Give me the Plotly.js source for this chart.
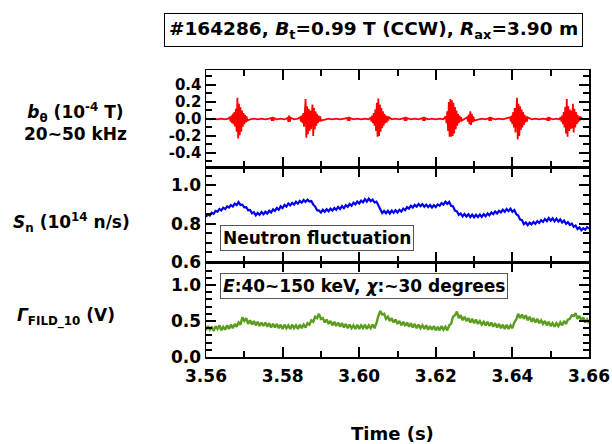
<!DOCTYPE html>
<html>
<head>
<meta charset="utf-8">
<script src="https://cdn.plot.ly/plotly-3.0.1.min.js"></script>
<style>html,body{margin:0;padding:0;background:#fff;}#chart{width:612px;height:444px;}</style>
</head>
<body>
<div id="chart"></div>
<script>
// ---- Data ----
// b_theta (1e-4 T), 20~50 kHz band: times (s) and values
const redT = [
  3.5600,3.5610,3.5620,3.5630,3.5640,3.5650,3.5658,
  3.5662,3.5664,3.5666,3.5668,3.5670,3.5672,3.5674,3.5676,3.5678,3.5680,3.5682,3.5684,3.5686,3.5688,3.5690,3.5692,3.5694,3.5696,3.5698,3.5700,3.5702,3.5704,3.5706,3.5708,
  3.5715,3.5725,3.5735,3.5745,3.5755,3.5765,
  3.5770,3.5772,3.5774,3.5776,3.5778,
  3.5785,3.5795,3.5805,3.5811,
  3.5813,3.5815,3.5817,3.5819,3.5821,
  3.5830,3.5840,
  3.5846,3.5848,3.5850,3.5852,3.5854,3.5856,3.5858,3.5860,3.5862,3.5864,3.5866,3.5868,3.5870,3.5872,3.5874,3.5876,3.5878,3.5880,3.5882,3.5884,3.5886,3.5888,3.5890,3.5892,3.5894,3.5896,3.5898,3.5900,
  3.5910,3.5920,3.5930,3.5940,3.5950,3.5960,
  3.5969,3.5971,3.5973,3.5975,3.5977,
  3.5985,3.5995,3.6005,3.6015,3.6025,
  3.6030,3.6032,3.6034,3.6036,3.6038,3.6040,3.6042,3.6044,3.6046,3.6048,3.6050,3.6052,3.6054,3.6056,3.6058,3.6060,3.6062,3.6064,3.6066,3.6068,3.6070,3.6072,3.6074,3.6076,3.6078,
  3.6085,3.6095,3.6105,3.6113,
  3.6117,3.6119,3.6121,3.6123,3.6125,
  3.6135,3.6145,3.6155,3.6162,
  3.6165,3.6167,3.6169,3.6171,3.6173,
  3.6180,3.6190,3.6200,3.6210,3.6220,
  3.6226,3.6228,3.6230,3.6232,3.6234,3.6236,3.6238,3.6240,3.6242,3.6244,3.6246,3.6248,3.6250,3.6252,3.6254,3.6256,3.6258,3.6260,3.6262,3.6264,3.6266,3.6268,
  3.6275,
  3.6282,3.6284,3.6286,3.6288,3.6290,3.6292,3.6294,3.6296,3.6298,3.6300,
  3.6310,3.6320,3.6330,
  3.6338,3.6340,3.6342,3.6344,3.6346,
  3.6355,3.6365,3.6375,3.6385,
  3.6394,3.6396,3.6398,3.6400,3.6402,3.6404,3.6406,3.6408,3.6410,3.6412,3.6414,3.6416,3.6418,3.6420,3.6422,3.6424,3.6426,3.6428,3.6430,3.6432,3.6434,3.6436,3.6438,3.6440,
  3.6450,3.6460,3.6470,3.6480,3.6488,
  3.6490,3.6492,3.6494,3.6496,3.6498,
  3.6505,3.6515,3.6522,
  3.6526,3.6528,3.6530,3.6532,3.6534,3.6536,3.6538,3.6540,3.6542,3.6544,3.6546,3.6548,3.6550,3.6552,3.6554,3.6556,3.6558,3.6560,3.6562,3.6564,3.6566,3.6568,3.6570,3.6572,3.6574,3.6576,3.6578,
  3.6585,3.6595,3.6600
];
const redV = [
  0.004,-0.004,0.005,-0.005,0.004,-0.004,0.004,
  0.02,-0.03,0.04,-0.05,0.06,-0.06,0.08,-0.09,0.12,-0.15,0.25,-0.23,0.18,-0.19,0.14,-0.15,0.10,-0.09,0.07,-0.06,0.05,-0.04,0.03,-0.02,
  -0.004,0.004,-0.004,0.005,-0.004,0.004,
  0.01,-0.02,0.025,-0.02,0.01,
  -0.004,0.004,-0.005,0.004,
  0.02,-0.035,0.04,-0.03,0.015,
  -0.004,0.004,
  0.02,-0.03,0.04,-0.05,0.07,-0.09,0.12,0.235,-0.22,0.15,-0.18,0.12,-0.14,0.10,-0.12,0.09,0.17,-0.20,0.13,-0.12,0.09,-0.08,0.06,-0.05,0.04,-0.03,0.03,-0.02,
  -0.004,0.005,-0.004,0.004,-0.005,0.004,
  0.01,-0.02,0.025,-0.02,0.01,
  -0.004,0.004,-0.004,0.005,-0.004,
  0.02,-0.03,0.04,-0.05,0.07,-0.08,0.11,-0.14,0.19,-0.21,0.24,-0.20,0.17,-0.15,0.13,-0.11,0.09,-0.08,0.06,-0.05,0.04,-0.04,0.03,-0.02,0.02,
  -0.004,0.004,-0.004,0.004,
  0.01,-0.02,0.025,-0.02,0.01,
  -0.004,0.004,-0.005,0.004,
  0.01,-0.02,0.025,-0.02,0.01,
  -0.004,0.004,-0.004,0.005,-0.004,
  0.03,-0.05,0.09,-0.14,0.20,-0.21,0.235,-0.21,0.22,-0.20,0.19,-0.17,0.14,-0.12,0.10,-0.08,0.06,-0.05,0.04,-0.03,0.02,-0.02,
  0.004,
  0.02,-0.03,0.05,-0.06,0.09,-0.07,0.06,-0.04,0.03,-0.02,
  -0.004,0.004,-0.004,
  0.01,-0.02,0.025,-0.02,0.01,
  -0.004,0.004,-0.004,0.004,
  0.02,-0.03,0.04,-0.06,0.08,-0.10,0.13,-0.16,0.20,0.25,-0.24,0.18,-0.20,0.15,-0.13,0.11,-0.10,0.08,-0.07,0.05,-0.04,0.03,-0.03,0.02,
  -0.004,0.004,-0.004,0.005,-0.004,
  0.01,-0.02,0.025,-0.02,0.01,
  -0.004,0.004,-0.004,
  0.02,-0.03,0.04,-0.06,0.08,-0.10,0.14,-0.17,0.235,-0.21,0.15,-0.14,0.11,-0.12,0.10,-0.11,0.18,-0.16,0.12,-0.10,0.08,-0.06,0.05,-0.04,0.03,-0.02,0.02,
  -0.004,0.004,0.0
];

// Sampling of the S_n and FILD traces: start time and step (s)
const sampleStart = 3.56;
const sampleStep = 0.0005;

// S_n (1e14 n/s), one value every 0.5 ms from 3.560 s to 3.660 s
const neutronV = [
  0.835,0.848,0.842,0.857,0.851,0.866,0.862,0.876,0.869,0.883,
  0.876,0.890,0.884,0.897,0.889,0.904,0.896,0.912,0.897,0.899,
  0.885,0.886,0.869,0.871,0.854,0.859,0.843,0.856,0.846,0.860,
  0.849,0.862,0.852,0.867,0.858,0.874,0.866,0.882,0.872,0.890,
  0.881,0.897,0.889,0.905,0.895,0.908,0.899,0.914,0.904,0.918,
  0.909,0.923,0.913,0.925,0.915,0.918,0.899,0.889,0.870,0.868,
  0.858,0.872,0.862,0.875,0.864,0.878,0.868,0.882,0.872,0.887,
  0.876,0.891,0.880,0.896,0.887,0.902,0.893,0.909,0.900,0.915,
  0.905,0.920,0.911,0.927,0.915,0.930,0.917,0.925,0.910,0.914,
  0.896,0.878,0.855,0.866,0.854,0.867,0.853,0.868,0.857,0.870,
  0.858,0.872,0.863,0.878,0.870,0.886,0.878,0.893,0.884,0.898,
  0.889,0.902,0.891,0.901,0.888,0.899,0.886,0.897,0.884,0.896,
  0.886,0.900,0.893,0.907,0.899,0.914,0.903,0.913,0.893,0.890,
  0.868,0.864,0.846,0.853,0.838,0.850,0.837,0.849,0.834,0.847,
  0.833,0.846,0.834,0.847,0.835,0.849,0.838,0.853,0.843,0.858,
  0.849,0.863,0.853,0.867,0.858,0.872,0.862,0.876,0.865,0.878,
  0.862,0.871,0.850,0.842,0.822,0.818,0.797,0.806,0.792,0.805,
  0.796,0.809,0.799,0.813,0.804,0.818,0.809,0.824,0.813,0.829,
  0.815,0.827,0.812,0.826,0.811,0.822,0.806,0.816,0.799,0.808,
  0.793,0.800,0.784,0.790,0.772,0.780,0.765,0.776,0.768,0.782,
  0.774
];

// Gamma_FILD_10 (V), one value every 0.5 ms from 3.560 s to 3.660 s
const fildV = [
  0.37,0.43,0.38,0.42,0.36,0.43,0.39,0.44,0.37,0.42,
  0.38,0.44,0.39,0.45,0.40,0.46,0.42,0.48,0.45,0.55,
  0.50,0.54,0.46,0.51,0.45,0.50,0.44,0.49,0.43,0.48,
  0.43,0.48,0.42,0.47,0.41,0.46,0.41,0.46,0.40,0.45,
  0.39,0.45,0.40,0.44,0.39,0.45,0.40,0.44,0.39,0.45,
  0.40,0.45,0.41,0.47,0.45,0.51,0.49,0.56,0.54,0.60,
  0.53,0.54,0.48,0.52,0.46,0.50,0.44,0.49,0.43,0.48,
  0.42,0.47,0.41,0.46,0.40,0.45,0.40,0.44,0.39,0.45,
  0.39,0.44,0.40,0.45,0.39,0.44,0.40,0.45,0.40,0.47,
  0.57,0.64,0.59,0.60,0.53,0.56,0.50,0.54,0.48,0.52,
  0.46,0.50,0.44,0.49,0.43,0.48,0.42,0.47,0.41,0.46,
  0.40,0.45,0.40,0.44,0.39,0.44,0.38,0.43,0.38,0.43,
  0.37,0.42,0.37,0.43,0.38,0.42,0.37,0.44,0.46,0.56,
  0.58,0.63,0.54,0.58,0.51,0.56,0.50,0.54,0.48,0.53,
  0.47,0.52,0.46,0.50,0.45,0.49,0.44,0.49,0.43,0.48,
  0.42,0.47,0.41,0.46,0.40,0.45,0.39,0.45,0.39,0.44,
  0.40,0.48,0.52,0.60,0.54,0.59,0.53,0.58,0.51,0.56,
  0.49,0.54,0.48,0.53,0.47,0.51,0.46,0.50,0.44,0.49,
  0.43,0.47,0.42,0.47,0.43,0.48,0.44,0.50,0.46,0.52,
  0.53,0.58,0.57,0.61,0.53,0.57,0.51,0.55,0.48,0.52,
  0.47
];

// Axis ticks
const xTickVals = [3.56, 3.58, 3.60, 3.62, 3.64, 3.66];
const xTickText = ['3.56', '3.58', '3.60', '3.62', '3.64', '3.66'];
const bTickVals = [-0.4, -0.2, 0.0, 0.2, 0.4];
const bTickText = ['-0.4', '-0.2', '0.0', '0.2', '0.4'];
const snTickVals = [0.6, 0.8, 1.0];
const snTickText = ['0.6', '0.8', '1.0'];
const gTickVals = [0.0, 0.5, 1.0];
const gTickText = ['0.0', '0.5', '1.0'];

// Texts
const titleText = '#164286, <i>B</i><sub>t</sub>=0.99 T (CCW), <i>R</i><sub>ax</sub>=3.90 m';
const bLabel = '<i>b</i><sub>θ</sub> (10<sup>-4</sup> T)<br>20~50 kHz';
const snLabel = '<i>S</i><sub>n</sub> (10<sup>14</sup> n/s)';
const gLabel = '<i>Γ</i><sub>FILD_10</sub> (V)';
const neutronNote = 'Neutron fluctuation';
const fildNote = '<i>E</i>:40~150 keV, <i>χ</i>:~30 degrees';
const xLabel = 'Time (s)';

// ---- Plot ----
const FONT = 'DejaVu Sans, Liberation Sans, Arial, sans-serif';
const boldFont = (s) => ({family: FONT, size: s, color: '#000', weight: 'bold'});

const traces = [
  {x: redT, y: redV, xaxis: 'x3', yaxis: 'y3', type: 'scatter', mode: 'lines',
   line: {color: '#ff0000', width: 1.8}, hoverinfo: 'skip'},
  {x0: sampleStart, dx: sampleStep, y: neutronV, xaxis: 'x2', yaxis: 'y2', type: 'scatter', mode: 'lines',
   line: {color: '#0000f0', width: 2.2}, hoverinfo: 'skip'},
  {x0: sampleStart, dx: sampleStep, y: fildV, xaxis: 'x', yaxis: 'y', type: 'scatter', mode: 'lines',
   line: {color: '#5b9e1e', width: 2.4}, hoverinfo: 'skip'}
];

function xAx(anchor, labels) {
  return {
    anchor: anchor, range: [3.56, 3.66], showgrid: false, zeroline: false,
    showline: true, linecolor: '#000', linewidth: 1.5, mirror: 'allticks',
    ticks: 'inside', ticklen: 10, tickwidth: 2, tickcolor: '#000',
    tickvals: xTickVals, ticktext: xTickText, showticklabels: labels,
    tickfont: boldFont(17), ticklabelstandoff: 3,
    minor: {dtick: 0.01, tick0: 3.56, ticks: 'inside', ticklen: 6, tickwidth: 2, tickcolor: '#000', showgrid: false}
  };
}
function yAx(domain, range, vals, text, minorDt, fsize) {
  return {
    domain: domain, range: range, showgrid: false, zeroline: false,
    showline: true, linecolor: '#000', linewidth: 1.5, mirror: 'allticks',
    ticks: 'inside', ticklen: 10, tickwidth: 2, tickcolor: '#000',
    tickvals: vals, ticktext: text, tickfont: boldFont(fsize),
    minor: {dtick: minorDt, tick0: 0, ticks: 'inside', ticklen: 6, tickwidth: 2, tickcolor: '#000', showgrid: false}
  };
}

const layout = {
  width: 612, height: 444,
  margin: {l: 206, r: 23, t: 70, b: 87, pad: 0},
  paper_bgcolor: '#fff', plot_bgcolor: '#fff',
  showlegend: false,
  font: {family: FONT, color: '#000'},
  xaxis: xAx('y', true),
  xaxis2: Object.assign(xAx('y2', false), {matches: 'x'}),
  xaxis3: Object.assign(xAx('y3', false), {matches: 'x'}),
  yaxis: yAx([0, 0.331], [0, 1.32], gTickVals, gTickText, 0.1, 17),
  yaxis2: yAx([0.331, 0.662], [0.6, 1.095], snTickVals, snTickText, 0.05, 17),
  yaxis3: yAx([0.662, 1], [-0.565, 0.576], bTickVals, bTickText, 0.1, 15),
  annotations: [
    {text: titleText, xref: 'paper', yref: 'paper', x: 0.4386, y: 1.139, xanchor: 'center', yanchor: 'middle',
     showarrow: false, font: boldFont(18.5), bordercolor: '#000', borderwidth: 1, borderpad: 4, bgcolor: '#fff'},
    {text: bLabel, xref: 'paper', yref: 'paper', x: -0.34, y: 0.819, xanchor: 'center', yanchor: 'middle',
     showarrow: false, font: boldFont(17), align: 'center'},
    {text: snLabel, xref: 'paper', yref: 'paper', x: -0.352, y: 0.470, xanchor: 'center', yanchor: 'middle',
     showarrow: false, font: boldFont(17)},
    {text: gLabel, xref: 'paper', yref: 'paper', x: -0.366, y: 0.139, xanchor: 'center', yanchor: 'middle',
     showarrow: false, font: boldFont(17)},
    {text: neutronNote, xref: 'paper', yref: 'paper', x: 0.0366, y: 0.4146, xanchor: 'left', yanchor: 'middle',
     showarrow: false, font: boldFont(17), bordercolor: '#555', borderwidth: 1, borderpad: 2, bgcolor: '#fff'},
    {text: fildNote, xref: 'paper', yref: 'paper', x: 0.0366, y: 0.249, xanchor: 'left', yanchor: 'middle',
     showarrow: false, font: boldFont(17), bordercolor: '#555', borderwidth: 1, borderpad: 2, bgcolor: '#fff'},
    {text: xLabel, xref: 'paper', yref: 'paper', x: 0.486, y: -0.268, xanchor: 'center', yanchor: 'middle',
     showarrow: false, font: boldFont(18)}
  ]
};

Plotly.newPlot('chart', traces, layout, {staticPlot: true, displayModeBar: false});
</script>
</body>
</html>
